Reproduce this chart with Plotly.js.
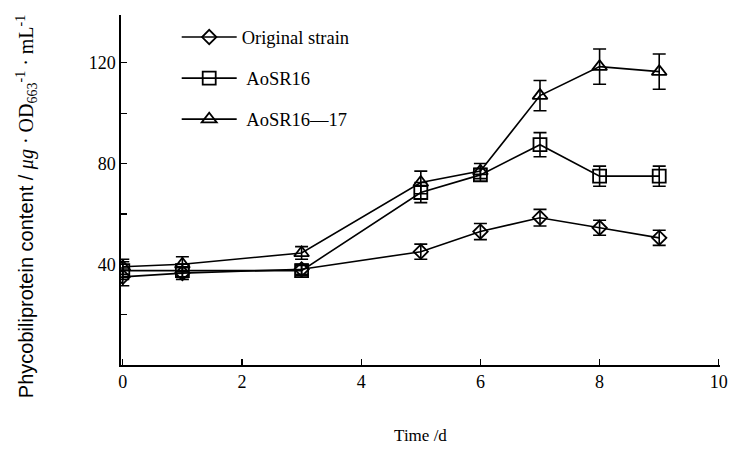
<!DOCTYPE html>
<html><head><meta charset="utf-8">
<script src="https://cdn.plot.ly/plotly-3.0.1.min.js"></script>
<style>html,body{margin:0;padding:0;background:#fff}</style>
</head><body>
<div id="chart" style="width:729px;height:455px"></div>
<script>
var days = [0, 1, 3, 5, 6, 7, 8, 9];
var seriesNames = ['Original strain', '\u00a0AoSR16', '\u00a0AoSR16\u201417'];
var originalVals = [35, 36.5, 38, 45, 53, 58.5, 54.5, 50.5];
var originalErr  = [3.5, 2.5, 2, 3, 3.2, 3.3, 3, 3];
var aosr16Vals   = [37.5, 37.5, 37.5, 68.5, 75.5, 87.5, 75, 75];
var aosr16Err    = [3.5, 2.5, 2, 4, 2.5, 4.8, 4, 4];
var aosr1617Vals = [39, 40, 44.5, 72.5, 77, 107, 118.5, 116.5];
var aosr1617Err  = [3, 3, 2.5, 4.5, 3, 6, 7, 7];
var xTicks = [0, 2, 4, 6, 8, 10];
var yTicks = [20, 40, 60, 80, 100, 120];
var yTickText = ['', '40', '', '80', '', '120'];
var yTitle = '<span style="font-family:Liberation Sans">Phycobiliprotein content / </span><i>\u03bcg</i> \u00b7 OD<sub>663</sub><sup>-1</sup> \u00b7 mL<sup>-1</sup>';

var symbols = ['diamond-open', 'square-open', 'triangle-up-open'];
var sizes = [11, 13, 13];
var vals = [originalVals, aosr16Vals, aosr1617Vals];
var errs = [originalErr, aosr16Err, aosr1617Err];

var traces = vals.map(function (v, i) {
  return {
    x: days, y: v, name: seriesNames[i], type: 'scatter', mode: 'lines+markers',
    legendgroup: 'g' + i,
    line: {color: '#000', width: 1.6},
    marker: {symbol: symbols[i], size: sizes[i], color: '#000', line: {color: '#000', width: 1.8}},
    error_y: {type: 'data', array: errs[i], visible: true, color: '#000', thickness: 1.6, width: 6.5}
  };
});

var serif = 'Liberation Serif, Times New Roman, serif';
var layout = {
  width: 729, height: 455,
  margin: {l: 121, r: 9, t: 15, b: 90},
  paper_bgcolor: '#fff', plot_bgcolor: '#fff',
  font: {family: serif, color: '#000', size: 16},
  showlegend: true,
  legend: {x: 0.093, y: 0.99, xanchor: 'left', yanchor: 'top', bgcolor: 'rgba(0,0,0,0)',
           font: {family: serif, size: 18.5, color: '#000'}, itemwidth: 55, tracegroupgap: 14},
  xaxis: {
    range: [-0.03, 10.02], tickvals: xTicks, ticktext: xTicks.map(String),
    ticklabeloverflow: 'allow',
    showline: true, linecolor: '#000', linewidth: 1.6, showgrid: false, zeroline: false,
    ticks: 'inside', ticklen: 6, tickwidth: 1.2, tickcolor: '#000',
    tickfont: {family: serif, size: 18, color: '#000'},
    title: {text: 'Time /d', font: {family: serif, size: 17, color: '#000'}, standoff: 38}
  },
  yaxis: {
    range: [0, 139], tickvals: yTicks, ticktext: yTickText,
    showline: true, linecolor: '#000', linewidth: 1.6, showgrid: false, zeroline: false,
    ticks: 'inside', ticklen: 6, tickwidth: 1.2, tickcolor: '#000',
    tickfont: {family: serif, size: 18, color: '#000'}
  },
  annotations: [{
    text: yTitle, xref: 'paper', yref: 'paper', x: -0.158, y: 0.452,
    xanchor: 'center', yanchor: 'middle', textangle: -90, showarrow: false,
    font: {family: serif, size: 20, color: '#000'}
  }]
};
Plotly.newPlot('chart', traces, layout, {displayModeBar: false, staticPlot: true});
</script>
</body></html>
